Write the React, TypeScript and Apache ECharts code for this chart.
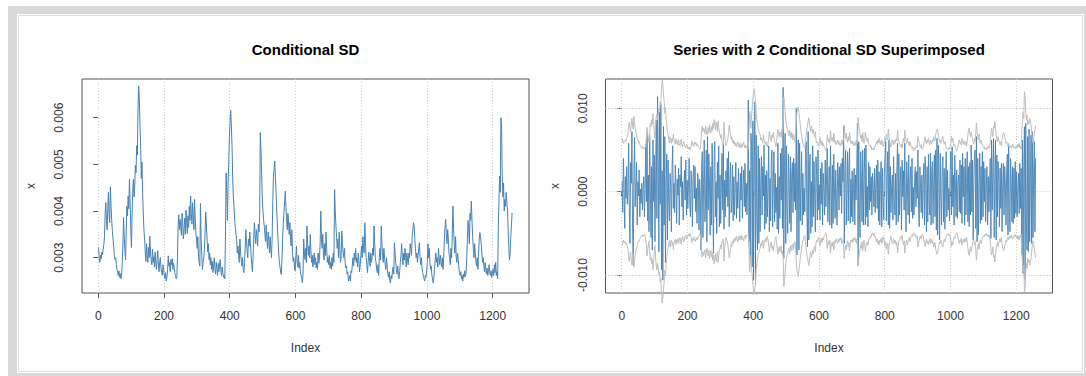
import React, { useEffect, useRef } from "react";
import * as echarts from "echarts";

// Conditional standard deviation, sampled every second observation (units of 1e-5)
const SD_SCALE = 1e-5;
const condSd = [
  322, 300, 290, 305, 298, 312, 306, 318, 328, 345,
  395, 418, 380, 360, 405, 440, 392, 375, 452, 410,
  380, 358, 340, 322, 305, 296, 300, 285, 275, 268,
  262, 272, 258, 266, 255, 262, 290, 325, 386, 348,
  318, 295, 352, 410, 390, 432, 405, 468, 420, 360,
  322, 395, 446, 468, 430, 455, 498, 482, 540, 520,
  618, 668, 640, 585, 540, 470, 505, 440, 396, 360,
  340, 312, 292, 330, 305, 290, 322, 300, 346, 310,
  295, 285, 318, 290, 302, 280, 312, 288, 275, 296,
  315, 282, 270, 292, 300, 278, 268, 262, 285, 275,
  262, 255, 268, 250, 258, 275, 304, 282, 290, 270,
  296, 285, 298, 275, 288, 280, 268, 262, 255, 258,
  300, 368, 392, 360, 382, 370, 348, 395, 372, 340,
  362, 385, 350, 402, 375, 352, 390, 365, 410, 380,
  432, 395, 372, 418, 390, 360, 425, 385, 352, 340,
  320, 345, 302, 290, 282, 416, 340, 305, 275, 290,
  300, 318, 355, 398, 370, 340, 312, 330, 296, 310,
  285, 300, 275, 292, 268, 282, 300, 278, 265, 290,
  276, 262, 288, 270, 285, 296, 274, 262, 280, 268,
  258, 262, 255, 345, 482, 440, 380, 460, 505, 560,
  590, 616, 582, 540, 470, 430, 410, 380, 365, 350,
  340, 310, 325, 305, 290, 340, 312, 295, 282, 300,
  275, 268, 290, 320, 360, 335, 312, 300, 340, 325,
  355, 330, 305, 285, 270, 300, 340, 375, 350, 330,
  360, 345, 325, 372, 355, 390, 568, 530, 480, 430,
  400, 382, 368, 350, 335, 370, 340, 320, 355, 335,
  310, 345, 318, 300, 340, 420, 475, 490, 507, 470,
  440, 400, 368, 340, 310, 290, 280, 268, 264, 300,
  340, 375, 396, 420, 443, 410, 380, 360, 395, 372,
  350, 375, 340, 325, 360, 310, 292, 300, 280, 272,
  300, 325, 290, 280, 305, 278, 290, 270, 262, 255,
  246, 265, 340, 310, 296, 320, 290, 368, 330, 305,
  325, 300, 350, 315, 290, 305, 280, 295, 310, 285,
  300, 278, 290, 275, 310, 288, 300, 330, 400, 340,
  320, 350, 310, 295, 330, 305, 355, 320, 290, 300,
  285, 305, 278, 290, 275, 300, 282, 310, 290, 446,
  400, 370, 345, 320, 340, 300, 355, 318, 290, 305,
  357, 330, 310, 300, 320, 290, 278, 282, 265, 270,
  250, 255, 262, 250, 272, 268, 285, 300, 282, 310,
  295, 320, 290, 300, 280, 310, 295, 270, 285, 305,
  325, 300, 345, 320, 310, 375, 330, 300, 285, 268,
  290, 312, 300, 282, 310, 290, 300, 320, 305, 368,
  330, 300, 290, 275, 268, 285, 262, 300, 320, 295,
  368, 330, 305, 290, 320, 300, 285, 275, 300, 280,
  265, 258, 270, 250, 246, 262, 255, 270, 280, 265,
  332, 310, 290, 275, 265, 282, 260, 255, 270, 290,
  305, 330, 300, 285, 310, 295, 320, 300, 280, 310,
  295, 285, 310, 300, 330, 320, 305, 345, 360, 375,
  368, 340, 320, 300, 310, 290, 305, 320, 332, 300,
  285, 300, 278, 268, 260, 255, 250, 262, 258, 270,
  290, 330, 300, 320, 290, 275, 282, 262, 255, 246,
  258, 275, 295, 310, 290, 300, 280, 320, 300, 285,
  305, 290, 280, 300, 275, 300, 340, 368, 382, 350,
  330, 360, 340, 310, 300, 285, 320, 300, 350, 411,
  360, 330, 310, 345, 300, 290, 310, 296, 280, 268,
  262, 270, 255, 262, 250, 265, 258, 272, 260, 268,
  300, 340, 380, 360, 330, 395, 380, 421, 380, 345,
  320, 300, 330, 310, 290, 282, 300, 275, 310, 340,
  354, 345, 330, 310, 290, 300, 282, 270, 290, 275,
  265, 278, 262, 270, 285, 268, 262, 272, 258, 266,
  275, 262, 285, 268, 290, 262, 270, 255, 368, 420,
  475, 440, 600, 575, 475, 430, 460, 400, 425, 410,
  440, 420, 400, 360, 320, 295, 310, 345, 370, 396,
];

// Return series at the same observations (units of 1e-4)
const RET_SCALE = 1e-4;
const returns = [
  12, -25, 40, 5, -44, 18, -8, 30, -15, 2,
  58, -20, -62, 35, 10, 72, -45, -88, 22, 65,
  -18, 8, 35, -40, 12, -5, 26, -30, 3, -14,
  10, -22, 4, 18, -30, 6, 54, -12, 70, -35,
  20, -48, 68, 5, -55, 30, -70, 62, -12, 44,
  -60, 15, 86, -32, 114, 40, -72, 95, -15, 106,
  -94, 25, -106, 78, -40, 66, -85, 10, 45, -58,
  38, -12, -35, 22, 5, -48, 28, 55, -20, 10,
  -25, 32, 8, -38, 15, -4, 28, -40, 20, 6,
  42, -18, 12, -34, 3, 26, -10, 38, -28, 14,
  -20, 6, 40, -15, -30, 25, 8, -42, 18, 32,
  -8, 30, -24, 4, -38, 22, 12, -46, 15, -5,
  -70, 28, 48, -55, 10, 62, -36, -15, 50, -60,
  66, -22, 45, 8, -52, 30, -40, 58, -10, -74,
  42, 60, -30, 12, -50, 35, -8, 55, -42, 20,
  -38, 5, 46, -22, 58, -45, 14, -30, 25, -6,
  40, -18, 48, -42, 8, 35, -25, -12, 32, -35,
  18, -28, 6, 35, -32, 12, -20, 28, -4, -36,
  22, -10, 30, -32, 5, 26, -18, 34, -24, 10,
  -28, 15, 110, -60, 25, -82, 70, 55, -90, 85,
  -106, 20, 108, -111, 68, -30, -70, 55, -62, 40,
  -48, 12, 42, -28, 30, -5, 56, -45, 20, -38,
  25, -30, 4, 55, -48, 16, -35, 38, 50, -42,
  10, 48, -36, 22, -25, 5, -45, 58, -50, 18,
  -32, 46, -10, 52, -44, 125, -80, 30, 70, -62,
  55, -15, -50, 45, 8, -38, 42, -48, 22, 35,
  -25, 40, -12, 34, -22, 100, -76, 18, 62, -70,
  58, -35, 10, 48, -40, 22, -28, 4, -24, 48,
  60, -18, -66, 72, -58, 25, 45, -50, 12, -42,
  55, -30, 36, -8, -48, 42, 20, -34, 50, -22,
  8, -34, 28, -15, 35, -40, 22, 2, -28, 38,
  -18, 15, 52, -36, -6, 30, -40, 55, 10, -44,
  32, -38, 45, 5, -32, 26, -12, -40, 35, 18,
  -22, 30, -5, 34, -26, 40, 12, 78, -62, 24,
  50, -40, 8, 48, -35, 28, 52, -38, 15, -30,
  25, -36, 4, 28, -40, 20, -10, 30, 82, -88,
  60, -28, -55, 48, 14, -36, 50, -40, 20, 52,
  -40, 56, -30, 6, -42, 35, -22, 30, -12, 18,
  -28, 22, 4, -18, 28, -25, 10, 32, -20, 38,
  -35, 24, -40, 12, 36, -42, 28, -8, -34, 22,
  45, 60, -35, 18, 48, -40, 62, -44, 30, -25,
  6, 20, -34, 42, -12, -28, 22, -40, 30, 58,
  -36, 45, -28, 8, 30, -46, 38, -6, 25, -22,
  58, -18, -48, 36, 10, -28, 44, -38, 14, 30,
  -24, 40, -32, 5, -28, 18, 30, -18, 24, -8,
  50, -20, -42, 30, 4, -25, 20, -32, 12, 34,
  -40, 42, 6, -48, 30, -36, 45, -10, -28, 46,
  -40, 25, 36, -38, 12, 44, -30, 50, -46, 64,
  -52, 56, 18, -58, 46, -5, -40, 30, 42, -36,
  28, -45, 10, 48, -30, 26, -22, 4, -35, 22,
  48, -28, 54, -18, 20, -40, 44, 8, -30, 26,
  -32, 12, 20, -24, 38, -26, 32, -38, 46, -6,
  30, -40, 40, -28, 10, 48, -36, 30, -42, 35,
  -28, 56, -24, 38, -58, 12, 45, 50, -44, 66,
  -60, 40, -52, 6, 46, -38, 30, -34, 48, -30,
  36, -12, 28, -36, 4, 30, -40, 18, -24, 8,
  40, -56, 62, -22, 30, 64, -55, 18, 62, -58,
  44, -30, 36, 12, -42, 28, -20, 34, -48, 10,
  34, -28, 30, 8, -40, 26, 45, -52, 55, -20,
  -48, 40, 10, -36, 30, -38, 28, -32, 36, -26,
  24, -30, 4, 22, -26, 34, -20, 28, -75, 62,
  -98, 30, 78, -105, 82, -40, -70, 66, -72, 75,
  -60, 12, 68, -62, 72, -55, 20, 60, -48, 40,
];

const FIRST_INDEX = 1;
const INDEX_STEP = 2;

const indexTicks = [0, 200, 400, 600, 800, 1000, 1200];
const sdTicks = [0.003, 0.004, 0.005, 0.006];
const retGridTicks = [-0.01, -0.005, 0, 0.005, 0.01];
const retLabelTicks = [-0.01, 0, 0.01];

const FONT = '"Liberation Sans", Arial, Helvetica, sans-serif';
const BLUE = "#4682B4";
const BAND = "#bebebe";
const AXIS = "#555555";
const LABEL = "#333333";
const GRID = "#cfcfcf";

const indexOf = (i: number) => FIRST_INDEX + i * INDEX_STEP;

function xAxisFor(gridIndex: number) {
  return {
    type: "value",
    gridIndex,
    min: -49.4,
    max: 1310.4,
    splitLine: { show: false },
    axisLine: { show: false },
    axisTick: {
      show: true,
      customValues: indexTicks,
      length: 5,
      lineStyle: { color: AXIS, width: 1 },
    },
    axisLabel: {
      customValues: indexTicks,
      margin: 17,
      fontSize: 12,
      color: LABEL,
      fontFamily: FONT,
      formatter: (v: number) => String(v),
    },
    name: "Index",
    nameLocation: "middle",
    nameGap: 49,
    nameTextStyle: { fontSize: 12, color: LABEL, fontFamily: FONT },
  };
}

function yAxisFor(gridIndex: number, min: number, max: number, labels: number[]) {
  return {
    type: "value",
    gridIndex,
    position: "left",
    min,
    max,
    splitLine: { show: false },
    axisLine: { show: false },
    axisTick: {
      show: true,
      customValues: labels,
      length: 5,
      lineStyle: { color: AXIS, width: 1 },
    },
    axisLabel: {
      customValues: labels,
      rotate: 90,
      margin: 17,
      fontSize: 12,
      color: LABEL,
      fontFamily: FONT,
      align: "center",
      verticalAlign: "bottom",
      formatter: (v: number) => v.toFixed(3),
    },
    name: "x",
    nameLocation: "middle",
    nameGap: 45,
    nameTextStyle: { fontSize: 12, color: LABEL, fontFamily: FONT },
  };
}

// Dotted reference grid drawn at the tick positions of each panel
function gridLines(xIndex: number, yTicks: number[]) {
  return {
    type: "line",
    xAxisIndex: xIndex,
    yAxisIndex: xIndex,
    data: [],
    silent: true,
    z: 1,
    markLine: {
      silent: true,
      z: 1,
      symbol: ["none", "none"],
      label: { show: false },
      emphasis: { disabled: true },
      lineStyle: { color: GRID, type: [1, 2], width: 1 },
      data: [
        ...indexTicks.map((v) => ({ xAxis: v })),
        ...yTicks.map((v) => ({ yAxis: v })),
      ],
    },
  };
}

export default function App() {
  const ref = useRef<HTMLDivElement>(null);

  useEffect(() => {
    if (!ref.current) return;
    const chart = echarts.init(ref.current, null, { renderer: "svg" });

    const sdPoints = condSd.map((v, i) => [indexOf(i), v * SD_SCALE]);
    const retPoints = returns.map((v, i) => [indexOf(i), v * RET_SCALE]);
    const upperBand = condSd.map((v, i) => [indexOf(i), 2 * v * SD_SCALE]);
    const lowerBand = condSd.map((v, i) => [indexOf(i), -2 * v * SD_SCALE]);

    const lineBase = {
      type: "line",
      showSymbol: false,
      symbol: "none",
      silent: true,
    };

    chart.setOption({
      animation: false,
      backgroundColor: "transparent",
      grid: [
        { left: 82, top: 79, width: 447, height: 214, show: true, borderColor: AXIS, borderWidth: 1, backgroundColor: "transparent" },
        { left: 605.5, top: 79, width: 447, height: 214, show: true, borderColor: AXIS, borderWidth: 1, backgroundColor: "transparent" },
      ],
      xAxis: [xAxisFor(0), xAxisFor(1)],
      yAxis: [
        yAxisFor(0, 0.002244, 0.006829, sdTicks),
        yAxisFor(1, -0.012146, 0.013513, retLabelTicks),
      ],
      graphic: [
        {
          type: "text",
          x: 305.5,
          y: 49,
          style: {
            text: "Conditional SD",
            font: `bold 15px ${FONT}`,
            fill: "#000",
            textAlign: "center",
            textVerticalAlign: "middle",
            align: "center",
            verticalAlign: "middle",
          },
        },
        {
          type: "text",
          x: 829,
          y: 49,
          style: {
            text: "Series with 2 Conditional SD Superimposed",
            font: `bold 15px ${FONT}`,
            fill: "#000",
            textAlign: "center",
            textVerticalAlign: "middle",
            align: "center",
            verticalAlign: "middle",
          },
        },
      ],
      series: [
        gridLines(0, sdTicks),
        gridLines(1, retGridTicks),
        {
          ...lineBase,
          xAxisIndex: 0,
          yAxisIndex: 0,
          z: 3,
          data: sdPoints,
          lineStyle: { color: BLUE, width: 1 },
        },
        {
          ...lineBase,
          xAxisIndex: 1,
          yAxisIndex: 1,
          z: 3,
          data: retPoints,
          lineStyle: { color: BLUE, width: 0.9 },
        },
        {
          ...lineBase,
          xAxisIndex: 1,
          yAxisIndex: 1,
          z: 4,
          clip: false,
          data: upperBand,
          lineStyle: { color: BAND, width: 1 },
        },
        {
          ...lineBase,
          xAxisIndex: 1,
          yAxisIndex: 1,
          z: 4,
          clip: false,
          data: lowerBand,
          lineStyle: { color: BAND, width: 1 },
        },
      ],
    });

    return () => chart.dispose();
  }, []);

  return (
    <div
      style={{
        position: "fixed",
        left: 0,
        top: 0,
        width: 1086,
        height: 376,
        background: "#ffffff",
        overflow: "hidden",
      }}
    >
      <div
        style={{
          position: "absolute",
          left: 8,
          top: 6,
          width: 1078,
          height: 370,
          background: "#d9d9d9",
        }}
      />
      <div
        style={{
          position: "absolute",
          left: 17,
          top: 14,
          width: 1065,
          height: 357,
          background: "#ffffff",
          border: "1px solid #ffffff",
          boxShadow: "inset 0 0 0 1px #e0e0e0",
        }}
      />
      <div
        ref={ref}
        style={{ position: "absolute", left: 0, top: 0, width: 1086, height: 376 }}
      />
    </div>
  );
}
